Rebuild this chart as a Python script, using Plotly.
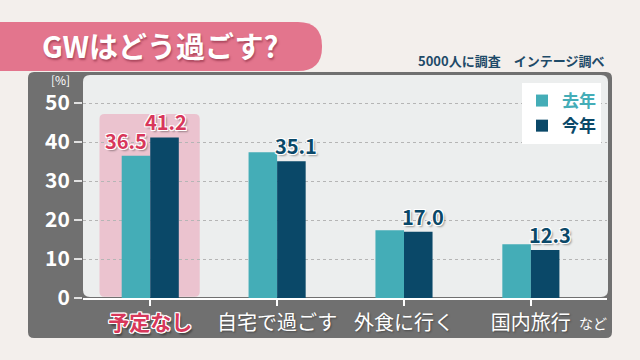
import plotly.graph_objects as go

categories = ["予定なし", "自宅で過ごす", "外食に行く", "国内旅行"]
last_year = [36.5, 37.4, 17.4, 13.8]
this_year = [41.2, 35.1, 17.0, 12.3]
series_names = ["去年", "今年"]
y_ticks = [0, 10, 20, 30, 40, 50]

TEAL = "#44adb7"
NAVY = "#0a4868"
CRIMSON = "#d8375a"
JP = "Noto Sans CJK JP"

# plot area in pixels
L, R, T, B = 83, 607, 75, 298
W, H = 640, 360
PW, PH = R - L, B - T


def px(x):
    return (x - L) / PW


def py(y):
    return (B - y) / PH


def rrect(x0, y0, x1, y1, rx, ry):
    # rounded rectangle path (x0<x1, y0<y1 in coordinate units)
    return (f"M{x0+rx},{y0} L{x1-rx},{y0} Q{x1},{y0} {x1},{y0+ry} "
            f"L{x1},{y1-ry} Q{x1},{y1} {x1-rx},{y1} L{x0+rx},{y1} "
            f"Q{x0},{y1} {x0},{y1-ry} L{x0},{y0+ry} Q{x0},{y0} {x0+rx},{y0} Z")


fig = go.Figure()
fig.add_trace(go.Bar(x=categories, y=last_year, name=f"<span style='color:{TEAL}'>{series_names[0]}</span>",
                     marker=dict(color=TEAL, line=dict(width=0))))
fig.add_trace(go.Bar(x=categories, y=this_year, name=f"<span style='color:{NAVY}'>{series_names[1]}</span>",
                     marker=dict(color=NAVY, line=dict(width=0))))

shapes = []
# gray outer panel
shapes.append(dict(type="path", xref="paper", yref="paper", layer="below",
                   path=rrect(px(28), py(338), px(612), py(72), 6 / PW, 6 / PH),
                   fillcolor="#707070", line=dict(width=0)))
# light plot panel
shapes.append(dict(type="path", xref="paper", yref="paper", layer="below",
                   path=rrect(px(83), py(297), px(608), py(75), 7 / PW, 7 / PH),
                   fillcolor="#eceeee", line=dict(width=0)))
# title banner
shapes.append(dict(type="path", xref="paper", yref="paper", layer="below",
                   path=rrect(px(-30), py(71), px(322), py(22), 24 / PW, 24 / PH),
                   fillcolor="#e3758d", line=dict(width=0)))
# pink highlight behind first category (data coords)
shapes.append(dict(type="path", xref="x", yref="y", layer="below",
                   path=rrect(-0.40, 0.3, 0.39, 47.2, 0.04, 1.3),
                   fillcolor="#ebc3cf", line=dict(width=0)))

shadow_w = ("1px 1px 0 #fff, -1px -1px 0 #fff, 1px -1px 0 #fff, -1px 1px 0 #fff, "
            "2px 2px 2px rgba(0,0,0,0.35)")

annotations = []
# value labels
off = 0.112
annotations.append(dict(x=0 - off - 0.08, y=last_year[0], xref="x", yref="y", text=f"{last_year[0]:.1f}",
                        showarrow=False, yanchor="bottom", yshift=-1,
                        font=dict(family=JP, size=20, color=CRIMSON, weight="bold", shadow=shadow_w)))
annotations.append(dict(x=0 + off + 0.01, y=this_year[0], xref="x", yref="y", text=f"{this_year[0]:.1f}",
                        showarrow=False, yanchor="bottom", yshift=-1,
                        font=dict(family=JP, size=20, color=CRIMSON, weight="bold", shadow=shadow_w)))
for i in range(1, len(categories)):
    annotations.append(dict(x=i + off + 0.04, y=this_year[i], xref="x", yref="y", text=f"{this_year[i]:.1f}",
                            showarrow=False, yanchor="bottom", yshift=-1,
                            font=dict(family=JP, size=20, color=NAVY, weight="bold", shadow=shadow_w)))
# title
annotations.append(dict(x=px(160), y=py(45), xref="paper", yref="paper", text="GWはどう過ごす?",
                        showarrow=False, xanchor="center", yanchor="middle",
                        font=dict(family=JP, size=29, color="white", weight="bold",
                                  shadow="1px 2px 2px rgba(120,30,50,0.5)")))
# source
annotations.append(dict(x=px(606), y=py(60), xref="paper", yref="paper", text="5000人に調査　インテージ調べ",
                        showarrow=False, xanchor="right", yanchor="middle",
                        font=dict(family=JP, size=13, color="#1e4a68", weight="bold")))
# unit
annotations.append(dict(x=px(60), y=py(80), xref="paper", yref="paper", text="[%]",
                        showarrow=False, xanchor="center", yanchor="middle",
                        font=dict(family=JP, size=12, color="white")))
# など
annotations.append(dict(x=px(593), y=py(323), xref="paper", yref="paper", text="など",
                        showarrow=False, xanchor="center", yanchor="middle",
                        font=dict(family=JP, size=14, color="white")))

hl_style = (f"color:{CRIMSON};font-weight:bold;font-size:21px;"
            "text-shadow:1px 1px 0 #fff,-1px -1px 0 #fff,1px -1px 0 #fff,-1px 1px 0 #fff,"
            "0 1px 0 #fff,0 -1px 0 #fff,1px 0 0 #fff,-1px 0 0 #fff,2px 3px 2px rgba(0,0,0,0.4)")
ticktext = [f"<span style='{hl_style}'>{categories[0]}</span>"] + categories[1:]

fig.update_layout(
    width=W, height=H,
    margin=dict(l=L, r=W - R, t=T, b=H - B, pad=0),
    paper_bgcolor="#f3efec",
    plot_bgcolor="rgba(0,0,0,0)",
    barmode="group", bargap=0.55, bargroupgap=0,
    shapes=shapes, annotations=annotations,
    font=dict(family=JP),
    legend=dict(x=px(601), y=py(83), xanchor="right", yanchor="top",
                bgcolor="white", borderwidth=0, itemwidth=30,
                font=dict(family=JP, size=17, weight="bold"),
                tracegroupgap=0, itemclick=False),
    showlegend=True,
)
fig.update_xaxes(
    type="category", range=[-0.53, 3.6],
    tickvals=list(range(len(categories))), ticktext=ticktext,
    showline=True, linecolor="white", linewidth=2,
    ticks="outside", tickcolor="white", ticklen=6, tickwidth=1.5,
    tickfont=dict(family=JP, size=20, color="white", shadow="1px 1px 2px rgba(0,0,0,0.35)"),
    showgrid=False, zeroline=False, fixedrange=True,
)
fig.update_yaxes(
    range=[0, 57.2], tickvals=y_ticks,
    showgrid=True, gridcolor="#b5b5b5", griddash="dot", gridwidth=1,
    ticks="outside", tickcolor="#e0e0e0", ticklen=8, tickwidth=1.5,
    tickfont=dict(family=JP, size=21, color="white", weight="bold"),
    showline=False, zeroline=False, fixedrange=True,
)

fig.write_html("out.html", config={"displayModeBar": False},
               post_script="document.body.style.margin='0';document.body.style.overflow='hidden';")
